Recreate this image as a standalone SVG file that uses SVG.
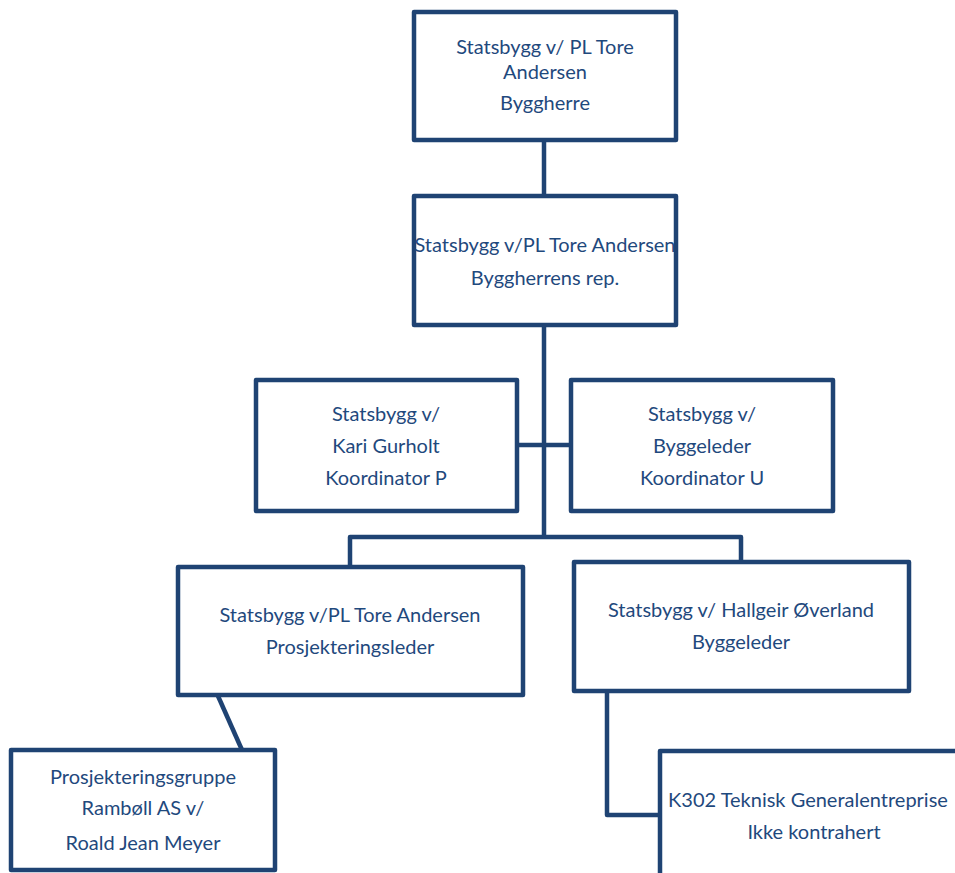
<svg xmlns="http://www.w3.org/2000/svg" width="955" height="873" viewBox="0 0 955 873">
<style>
.box{fill:#fff;stroke:#1f4373;stroke-width:4.5;stroke-linejoin:round}
.c{fill:none;stroke:#1f4373;stroke-width:4.5;stroke-linejoin:round}
text{font-family:Lato,"Open Sans",sans-serif;font-size:20px;fill:#1f497d;text-anchor:middle}
</style>
<rect width="955" height="873" fill="#fff"/>
<g id="connectors">
<line class="c" x1="544" y1="140" x2="544" y2="196"/>
<line class="c" x1="544" y1="325" x2="544" y2="537"/>
<line class="c" x1="517" y1="445" x2="571" y2="445"/>
<polyline class="c" points="350,567 350,537 741,537 741,562"/>
<line class="c" x1="218" y1="696" x2="242" y2="750"/>
<polyline class="c" points="607,691 607,815 660,815"/>
</g>
<g id="n1"><rect class="box" x="414" y="12" width="262" height="128"/>
<text x="545" y="54">Statsbygg v/ PL Tore</text><text x="545" y="79">Andersen</text><text x="545" y="110">Byggherre</text></g>
<g id="n2"><rect class="box" x="414" y="196" width="262" height="129"/>
<text x="545" y="252">Statsbygg v/PL Tore Andersen</text><text x="545" y="285">Byggherrens rep.</text></g>
<g id="n3"><rect class="box" x="256" y="380" width="261" height="131"/>
<text x="386" y="421">Statsbygg v/</text><text x="386" y="453">Kari Gurholt</text><text x="386" y="485">Koordinator P</text></g>
<g id="n4"><rect class="box" x="571" y="380" width="262" height="131"/>
<text x="702" y="421">Statsbygg v/</text><text x="702" y="453">Byggeleder</text><text x="702" y="485">Koordinator U</text></g>
<g id="n5"><rect class="box" x="178" y="567" width="345" height="128"/>
<text x="350" y="622">Statsbygg v/PL Tore Andersen</text><text x="350" y="654">Prosjekteringsleder</text></g>
<g id="n6"><rect class="box" x="574" y="562" width="335" height="129"/>
<text x="741" y="617">Statsbygg v/ Hallgeir Øverland</text><text x="741" y="649">Byggeleder</text></g>
<g id="n7"><rect class="box" x="11" y="750" width="264" height="120"/>
<text x="143" y="784">Prosjekteringsgruppe</text><text x="143" y="815">Rambøll AS v/</text><text x="143" y="850">Roald Jean Meyer</text></g>
<g id="n8"><rect class="box" x="660" y="751" width="330" height="140"/>
<text x="808" y="807">K302 Teknisk Generalentreprise</text><text x="814" y="839">Ikke kontrahert</text></g>
</svg>
